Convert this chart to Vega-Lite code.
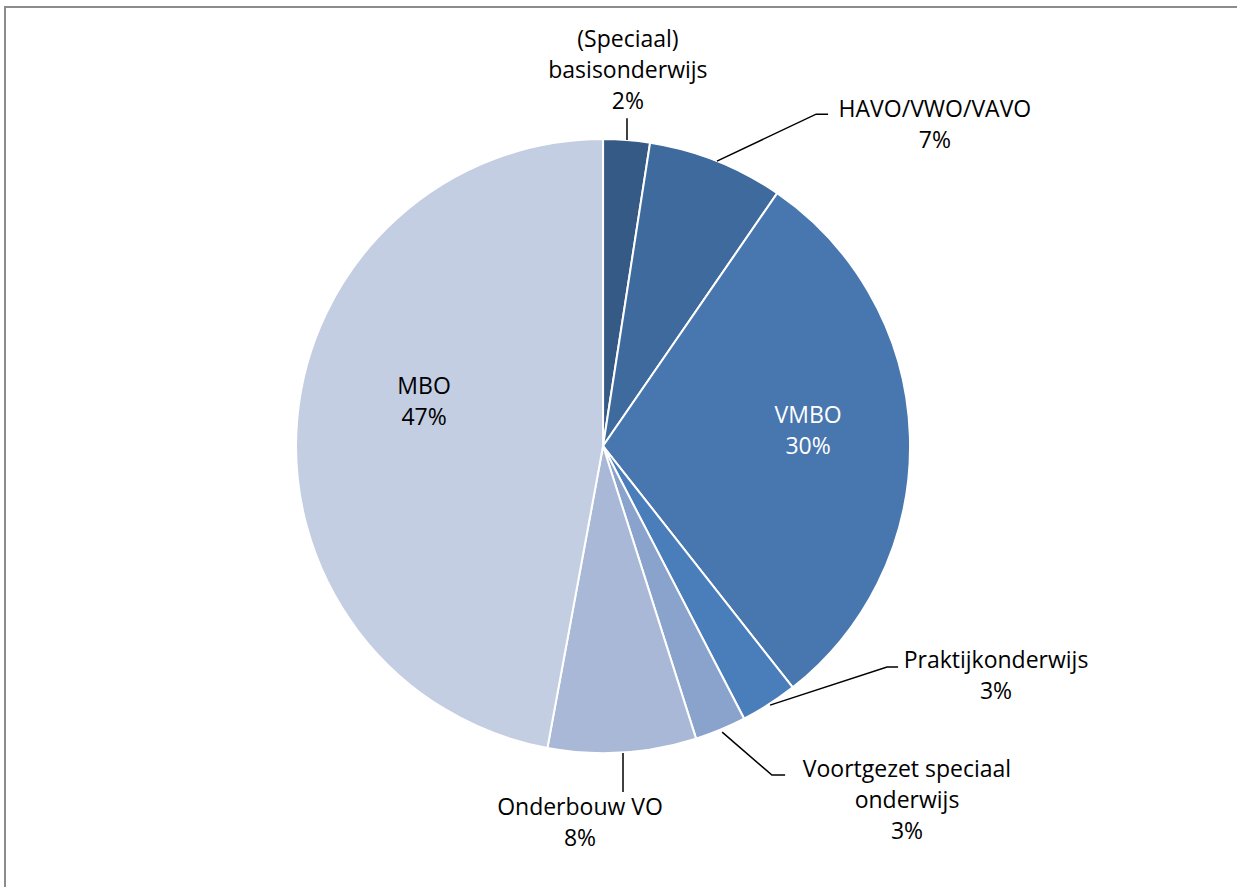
{
  "$schema": "https://vega.github.io/schema/vega-lite/v6.json",
  "width": 1240,
  "height": 890,
  "padding": {"left": 5, "top": 7, "right": 0, "bottom": 0},
  "autosize": {"type": "none"},
  "background": "white",
  "config": {"view": {"stroke": "#8c8c8c", "strokeWidth": 2}},
  "datasets": {
    "slices": [
      {"name": "(Speciaal) basisonderwijs", "value": 2.45, "order": 1},
      {"name": "HAVO/VWO/VAVO", "value": 7.15, "order": 2},
      {"name": "VMBO", "value": 29.8, "order": 3},
      {"name": "Praktijkonderwijs", "value": 3.0, "order": 4},
      {"name": "Voortgezet speciaal onderwijs", "value": 2.7, "order": 5},
      {"name": "Onderbouw VO", "value": 7.8, "order": 6},
      {"name": "MBO", "value": 47.1, "order": 7}
    ],
    "labels": [
      {"name": "(Speciaal) basisonderwijs", "text": "(Speciaal)\nbasisonderwijs\n2%", "x": 0.081, "y": 1.322},
      {"name": "HAVO/VWO/VAVO", "text": "HAVO/VWO/VAVO\n7%", "x": 1.081, "y": 1.094},
      {"name": "VMBO", "text": "VMBO\n30%", "x": 0.668, "y": 0.098},
      {"name": "Praktijkonderwijs", "text": "Praktijkonderwijs\n3%", "x": 1.28, "y": -0.7},
      {"name": "Voortgezet speciaal onderwijs", "text": "Voortgezet speciaal\nonderwijs\n3%", "x": 0.99, "y": -1.055},
      {"name": "Onderbouw VO", "text": "Onderbouw VO\n8%", "x": -0.075, "y": -1.179},
      {"name": "MBO", "text": "MBO\n47%", "x": -0.583, "y": 0.192}
    ],
    "leaders": [
      {"name": "Speciaal", "i": 1, "x": 0.078, "y": 0.997},
      {"name": "Speciaal", "i": 2, "x": 0.078, "y": 1.068},
      {"name": "HAVO", "i": 1, "x": 0.371, "y": 0.928},
      {"name": "HAVO", "i": 2, "x": 0.694, "y": 1.081},
      {"name": "HAVO", "i": 3, "x": 0.733, "y": 1.081},
      {"name": "Praktijk", "i": 1, "x": 0.544, "y": -0.844},
      {"name": "Praktijk", "i": 2, "x": 0.925, "y": -0.72},
      {"name": "Praktijk", "i": 3, "x": 0.961, "y": -0.72},
      {"name": "VSO", "i": 1, "x": 0.388, "y": -0.932},
      {"name": "VSO", "i": 2, "x": 0.55, "y": -1.072},
      {"name": "VSO", "i": 3, "x": 0.593, "y": -1.072},
      {"name": "Onderbouw", "i": 1, "x": 0.065, "y": -1.0},
      {"name": "Onderbouw", "i": 2, "x": 0.065, "y": -1.127}
    ]
  },
  "layer": [
    {
      "data": {"name": "slices"},
      "mark": {"type": "arc", "outerRadius": 307, "stroke": "white", "strokeWidth": 2},
      "encoding": {
        "x": {"datum": 0, "type": "quantitative", "scale": {"domain": [-1.948, 2.091], "nice": false, "zero": false}, "axis": null},
        "y": {"datum": 0, "type": "quantitative", "scale": {"domain": [-1.469, 1.43], "nice": false, "zero": false}, "axis": null},
        "theta": {"field": "value", "type": "quantitative", "stack": true},
        "order": {"field": "order", "type": "quantitative"},
        "color": {
          "field": "name", "type": "nominal", "legend": null,
          "scale": {
            "domain": ["(Speciaal) basisonderwijs", "HAVO/VWO/VAVO", "VMBO", "Praktijkonderwijs", "Voortgezet speciaal onderwijs", "Onderbouw VO", "MBO"],
            "range": ["#355A86", "#3E6A9D", "#4876AE", "#4A7EBB", "#8AA3CC", "#A8B8D6", "#C3CEE2"]
          }
        }
      }
    },
    {
      "data": {"name": "leaders"},
      "mark": {"type": "line", "color": "black", "strokeWidth": 1.5},
      "encoding": {
        "x": {"field": "x", "type": "quantitative"},
        "y": {"field": "y", "type": "quantitative"},
        "detail": {"field": "name"},
        "order": {"field": "i", "type": "quantitative"}
      }
    },
    {
      "data": {"name": "labels"},
      "mark": {"type": "text", "font": "Open Sans", "fontSize": 23, "lineHeight": 31, "lineBreak": "\n", "align": "center", "baseline": "middle"},
      "encoding": {
        "x": {"field": "x", "type": "quantitative"},
        "y": {"field": "y", "type": "quantitative"},
        "text": {"field": "text", "type": "nominal"},
        "color": {"condition": {"test": "datum.name === 'VMBO'", "value": "white"}, "value": "black"}
      }
    }
  ]
}
